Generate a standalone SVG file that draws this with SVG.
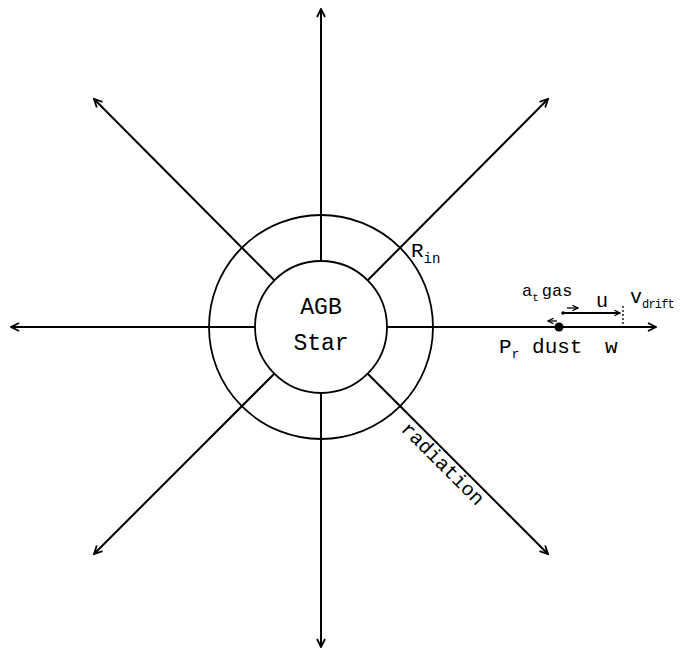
<svg xmlns="http://www.w3.org/2000/svg" width="682" height="649" viewBox="0 0 682 649">
<defs>
<marker id="ah" viewBox="0 0 10 10" refX="9" refY="5" markerWidth="10" markerHeight="10" markerUnits="userSpaceOnUse" orient="auto">
<path d="M1,1 L9,5 L1,9" fill="none" stroke="#000" stroke-width="1.8"/>
</marker>
<marker id="ahs" viewBox="0 0 10 10" refX="9" refY="5" markerWidth="7" markerHeight="7" markerUnits="userSpaceOnUse" orient="auto">
<path d="M1,1 L9,5 L1,9" fill="none" stroke="#000" stroke-width="1.8"/>
</marker>
</defs>
<style>
.ray{stroke:#000;stroke-width:2;fill:none;marker-end:url(#ah)}
.circ{stroke:#000;stroke-width:1.8;fill:#fff}
.small{stroke:#000;stroke-width:1.3;fill:none;marker-end:url(#ahs)}
.t{font-family:"Liberation Mono","DejaVu Sans Mono",monospace;fill:#000}
</style>
<rect width="682" height="649" fill="#fff"/>
<g id="outer">
<circle class="circ" cx="321" cy="327" r="112"/>
</g>
<g id="connectors">
<line class="ray" x1="321" y1="261" x2="321" y2="9"/>
<line class="ray" x1="321" y1="393" x2="321" y2="647"/>
<line class="ray" x1="255" y1="327" x2="11" y2="327"/>
<line class="ray" x1="387" y1="327" x2="656" y2="327"/>
<line class="ray" x1="274.3" y1="280.3" x2="94" y2="99"/>
<line class="ray" x1="367.7" y1="280.3" x2="548" y2="99"/>
<line class="ray" x1="274.3" y1="373.7" x2="94" y2="554"/>
<line class="ray" x1="367.7" y1="373.7" x2="548" y2="554"/>
<line x1="563" y1="313" x2="620" y2="313" stroke="#000" stroke-width="1.8" marker-end="url(#ahs)"/>
<line x1="623" y1="306" x2="623" y2="325" stroke="#000" stroke-width="1.3" stroke-dasharray="2,2"/>
<line class="small" x1="567" y1="308" x2="578" y2="308"/>
<line class="small" x1="557" y1="321" x2="548" y2="321"/>
</g>
<g id="star">
<circle class="circ" cx="321" cy="327" r="66"/>
<text class="t" x="321" y="314" font-size="23" text-anchor="middle">AGB</text>
<text class="t" x="321" y="350" font-size="23" text-anchor="middle">Star</text>
</g>
<g id="rin">
<text class="t" x="411" y="257" font-size="21">R<tspan font-size="14" dy="6">in</tspan></text>
</g>
<g id="radiation">
<text class="t" font-size="20" transform="translate(400,430) rotate(45)">radiation</text>
</g>
<g id="dust">
<circle cx="559" cy="327" r="4.5" fill="#000"/>
<circle cx="563" cy="313" r="1.8" fill="#000"/>
<text class="t" x="522" y="296" font-size="17">a<tspan font-size="11" dy="5">t</tspan><tspan dy="-5" dx="3">gas</tspan></text>
<text class="t" x="596" y="307" font-size="20">u</text>
<text class="t" x="630" y="303" font-size="20">v<tspan font-size="12" dy="5" letter-spacing="-0.8">drift</tspan></text>
<text class="t" x="499" y="353" font-size="21">P<tspan font-size="13" dy="5">r</tspan><tspan dy="-5"> dust</tspan></text>
<text class="t" x="605" y="353" font-size="21">w</text>
</g>
</svg>
